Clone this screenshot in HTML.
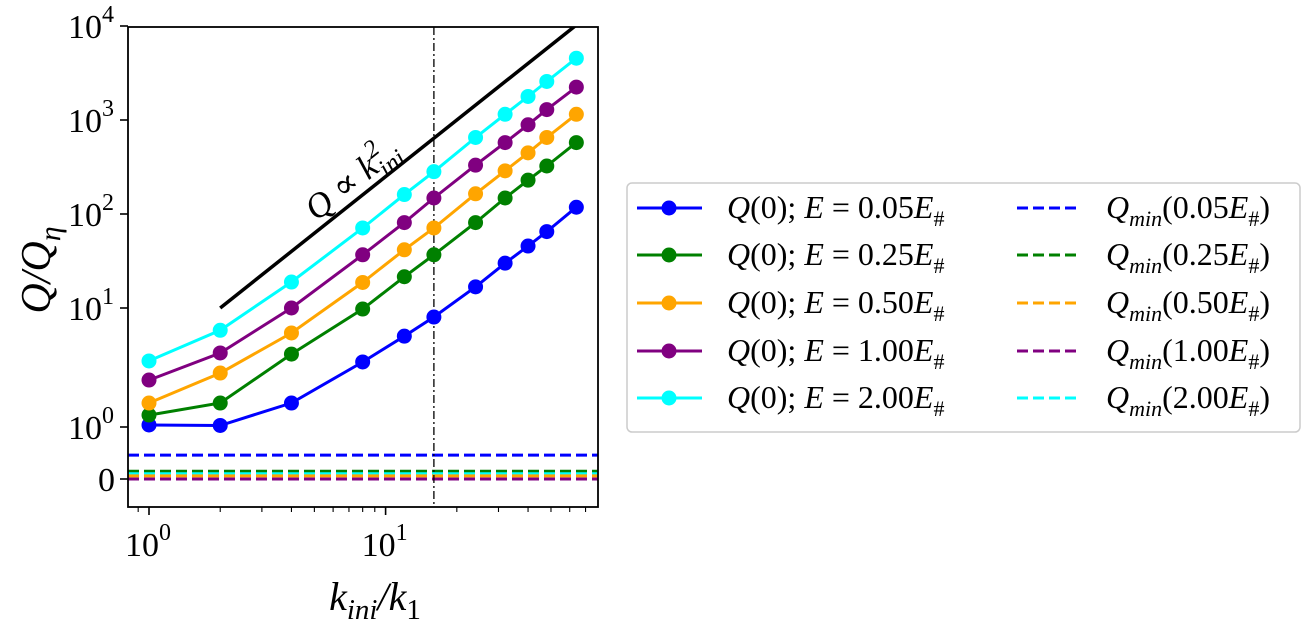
<!DOCTYPE html>
<html><head><meta charset="utf-8"><style>
html,body{margin:0;padding:0;background:#fff;}
svg{display:block;font-family:"Liberation Serif","DejaVu Serif",serif;}
</style></head><body>
<svg id="chart" width="1303" height="629" viewBox="0 0 1303 629" xmlns="http://www.w3.org/2000/svg">
<defs><clipPath id="clip"><rect x="128" y="27" width="470" height="480"/></clipPath></defs>
<g id="plot" clip-path="url(#clip)"></g>
<rect x="128" y="27" width="470" height="480" fill="none" stroke="#000" stroke-width="1.8"/>
<g id="ticks"></g>
<text x="359" y="188" font-size="35" font-style="italic" text-anchor="middle" transform="rotate(-38.5 359 188)">Q ∝ k<tspan font-size="25" dy="-15">2</tspan><tspan font-size="25" dx="-12" dy="24">ini</tspan></text>
<text x="0" y="0" font-size="42" font-style="italic" text-anchor="middle" transform="translate(50 270) rotate(-90)">Q/Q<tspan font-size="30" dy="10">η</tspan></text>
<text x="375" y="610" font-size="40" font-style="italic" text-anchor="middle">k<tspan font-size="29" dy="9">ini</tspan><tspan dy="-9">/k</tspan><tspan font-size="29" dy="9" font-style="normal">1</tspan></text>
<g id="legend">
<rect x="627" y="183" width="673" height="249" rx="5" fill="#fff" stroke="#cccccc" stroke-width="1.5"/>
</g>
</svg>
<script>
const kValues = [1, 2, 4, 8, 12, 16, 24, 32, 40, 48, 64];
const seriesNames = ["0.05", "0.25", "0.50", "1.00", "2.00"];
const seriesColors = ["#0000ff", "#008000", "#ffa500", "#800080", "#00ffff"];
const qBlue = [1.04, 1.03, 1.59, 3.52, 5.8, 8.4, 16.8, 30, 45.6, 65, 118];
const qGreen = [1.26, 1.59, 4.1, 9.8, 21.5, 36.8, 81, 148, 229, 324, 575];
const qOrange = [1.59, 2.84, 6.17, 18.7, 41.6, 71, 164, 288, 447, 652, 1150];
const qPurple = [2.48, 4.19, 10, 36.8, 81, 148, 331, 575, 890, 1290, 2240];
const qCyan = [3.59, 6.5, 18.9, 71, 161, 282, 652, 1150, 1780, 2570, 4540];
const qMin = [0.46, 0.15, 0.06, 0.0, 0.10];
const refLineK = [2, 70];
const refLineQ0 = 10;
const markerK = 16;
const yTickValues = [0, 1, 10, 100, 1000, 10000];
const yTickLabels = ["0", "0", "1", "2", "3", "4"];
const xTickValues = [1, 10];
const xTickLabels = ["0", "1"];

const NS = "http://www.w3.org/2000/svg";
function X(k){ return 149 + Math.log10(k) * 236.6; }
function Y(v){
  if (v < 1) return 479 - 52 * v;
  if (v < 10) return 427 - 119 * Math.log10(v);
  return 308 - 94 * (Math.log10(v) - 1);
}
function mk(tag, attrs, parent){
  const e = document.createElementNS(NS, tag);
  for (const a in attrs) e.setAttribute(a, attrs[a]);
  parent.appendChild(e);
  return e;
}
const plot = document.getElementById('plot');
const ticks = document.getElementById('ticks');
const legend = document.getElementById('legend');
const allQ = [qBlue, qGreen, qOrange, qPurple, qCyan];

const minOrder = [0, 1, 4, 2, 3];
minOrder.forEach(i => {
  const l = mk('line', {x1:128, x2:598, y1:Y(qMin[i]), y2:Y(qMin[i]), stroke:seriesColors[i], 'stroke-width':3, 'stroke-dasharray':'11 5'}, plot);
  
  
});
const vl = mk('line', {x1:X(markerK), x2:X(markerK), y1:27, y2:507, stroke:'#000', 'stroke-width':1.3, 'stroke-dasharray':'8 3 2 3'}, plot);


const rl = mk('line', {x1:X(refLineK[0]), y1:Y(refLineQ0), x2:X(refLineK[1]), y2:Y(refLineQ0*Math.pow(refLineK[1]/refLineK[0],2)), stroke:'#000', 'stroke-width':3.5}, plot);


allQ.forEach((arr, i) => {
  const g = mk('g', {}, plot);
  
  
  const pts = arr.map((v, j) => X(kValues[j]).toFixed(1) + ',' + Y(v).toFixed(1)).join(' ');
  const pl = mk('polyline', {points:pts, fill:'none', stroke:seriesColors[i], 'stroke-width':3}, g);
  
  
  arr.forEach((v, j) => {
    const c = mk('circle', {cx:X(kValues[j]), cy:Y(v), r:7.5, fill:seriesColors[i]}, g);
    
    
  });
});
yTickValues.forEach((v, i) => {
  const y = Y(v);
  const t = mk('line', {x1:120, x2:128, y1:y, y2:y, stroke:'#000', 'stroke-width':1.6}, ticks);
  
  
  const tx = mk('text', {x: v === 0 ? 115 : 98, y:y + 12, 'font-size':34, 'text-anchor':'end'}, ticks);
  
  
  if (v === 0) { tx.textContent = '0'; }
  else {
    tx.textContent = '10';
    tx.setAttribute('text-anchor', 'start');
    tx.setAttribute('x', 68);
    const s = mk('tspan', {'font-size':24, dy:-16}, ticks);
    tx.appendChild(s); s.textContent = yTickLabels[i];
  }
});
for (let d = 0; d < 2; d++) for (let m = 1; m < 10; m++) {
  const kk = d === 0 ? m : m * 10;
  const x = X(kk);
  if (x < 128 || x > 598) continue;
  const major = m === 1;
  const t = mk('line', {x1:x, x2:x, y1:507, y2:major ? 515 : 512, stroke:'#000', 'stroke-width':major ? 1.6 : 1.1}, ticks);
  
  
}
{ const x = X(0.9); const t = mk('line', {x1:x, x2:x, y1:507, y2:512, stroke:'#000', 'stroke-width':1.1}, ticks);
    }
xTickValues.forEach((v, i) => {
  const tx = mk('text', {x:X(v) - 24, y:556, 'font-size':34}, ticks);
  
  
  tx.textContent = '10';
  const s = mk('tspan', {'font-size':24, dy:-16}, ticks);
  tx.appendChild(s); s.textContent = xTickLabels[i];
});
const rowY = [208, 255, 303, 351, 398];
seriesNames.forEach((n, i) => {
  const y = rowY[i];
  const h = mk('line', {x1:637, x2:702, y1:y, y2:y, stroke:seriesColors[i], 'stroke-width':3}, legend);
  
  
  const c = mk('circle', {cx:669, cy:y, r:7.5, fill:seriesColors[i]}, legend);
  
  
  const t = mk('text', {x:727, y:y + 10, 'font-size':32, 'font-style':'italic'}, legend);
  
  
  t.innerHTML = 'Q<tspan font-style="normal">(0); </tspan>E<tspan font-style="normal"> = ' + n + '</tspan>E<tspan font-size="22" dy="8" font-style="normal">#</tspan>';
  const d = mk('line', {x1:1017, x2:1078, y1:y, y2:y, stroke:seriesColors[i], 'stroke-width':3, 'stroke-dasharray':'11 5'}, legend);
  
  
  const t2 = mk('text', {x:1106, y:y + 10, 'font-size':32, 'font-style':'italic'}, legend);
  
  
  t2.innerHTML = 'Q<tspan font-size="22" dy="8">min</tspan><tspan font-style="normal" dy="-8">(' + n + '</tspan>E<tspan font-size="22" dy="8" font-style="normal">#</tspan><tspan font-style="normal" dy="-8">)</tspan>';
});
</script>
</body></html>
